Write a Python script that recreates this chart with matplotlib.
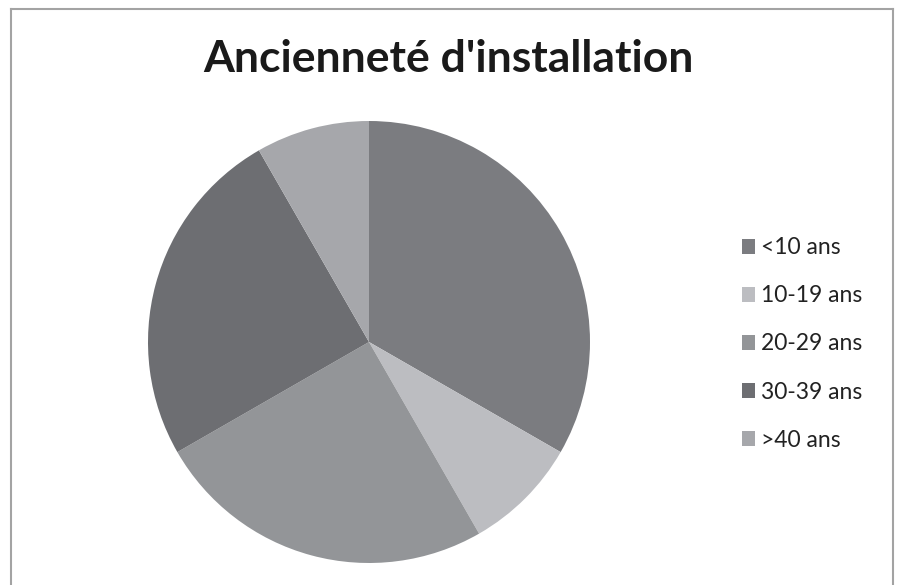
import matplotlib
matplotlib.use("Agg")
import matplotlib.pyplot as plt
from matplotlib.lines import Line2D

title = "Ancienneté d'installation"
categories = ["<10 ans", "10-19 ans", "20-29 ans", "30-39 ans", ">40 ans"]
values = [33.3, 8.4, 25.0, 25.0, 8.3]
colors = ["#7b7c80", "#bcbdc1", "#939598", "#6d6e72", "#a6a7ab"]

W, H = 897, 585
fig = plt.figure(figsize=(W / 100, H / 100), dpi=100)
fig.patch.set_facecolor("white")

# border (no bottom line visible)
bc = "#a3a3a3"
fig.add_artist(Line2D([11.3 / W, 11.3 / W], [0, 1 - 9.3 / H], transform=fig.transFigure, color=bc, lw=1.5))
fig.add_artist(Line2D([11.3 / W, 893 / W], [1 - 9.3 / H, 1 - 9.3 / H], transform=fig.transFigure, color=bc, lw=1.5))
fig.add_artist(Line2D([893 / W, 893 / W], [0, 1 - 9.3 / H], transform=fig.transFigure, color=bc, lw=1.5))

cx, cy, r = 369, 342, 221
ax = fig.add_axes([(cx - r) / W, (H - cy - r) / H, 2 * r / W, 2 * r / H])
wedges, _ = ax.pie(values, colors=colors, startangle=90, counterclock=False,
                   wedgeprops=dict(linewidth=0))
ax.set_xlim(-1, 1)
ax.set_ylim(-1, 1)
ax.set_aspect("equal")
ax.axis("off")

fig.text(448 / W, 1 - 59 / H, title, ha="center", va="center",
         fontsize=32, fontweight="bold", family="Lato", color="#1a1a1a")

leg = fig.legend(wedges, categories, loc="center left",
                 bbox_to_anchor=(721 / W, 1 - 344 / H), frameon=False,
                 prop={"family": "Lato", "size": 16.5}, handlelength=0.6,
                 handleheight=0.6, handletextpad=0.25, labelspacing=1.18)
for t in leg.get_texts():
    t.set_color("#222222")

fig.savefig("out.png", dpi=100, facecolor="white")
